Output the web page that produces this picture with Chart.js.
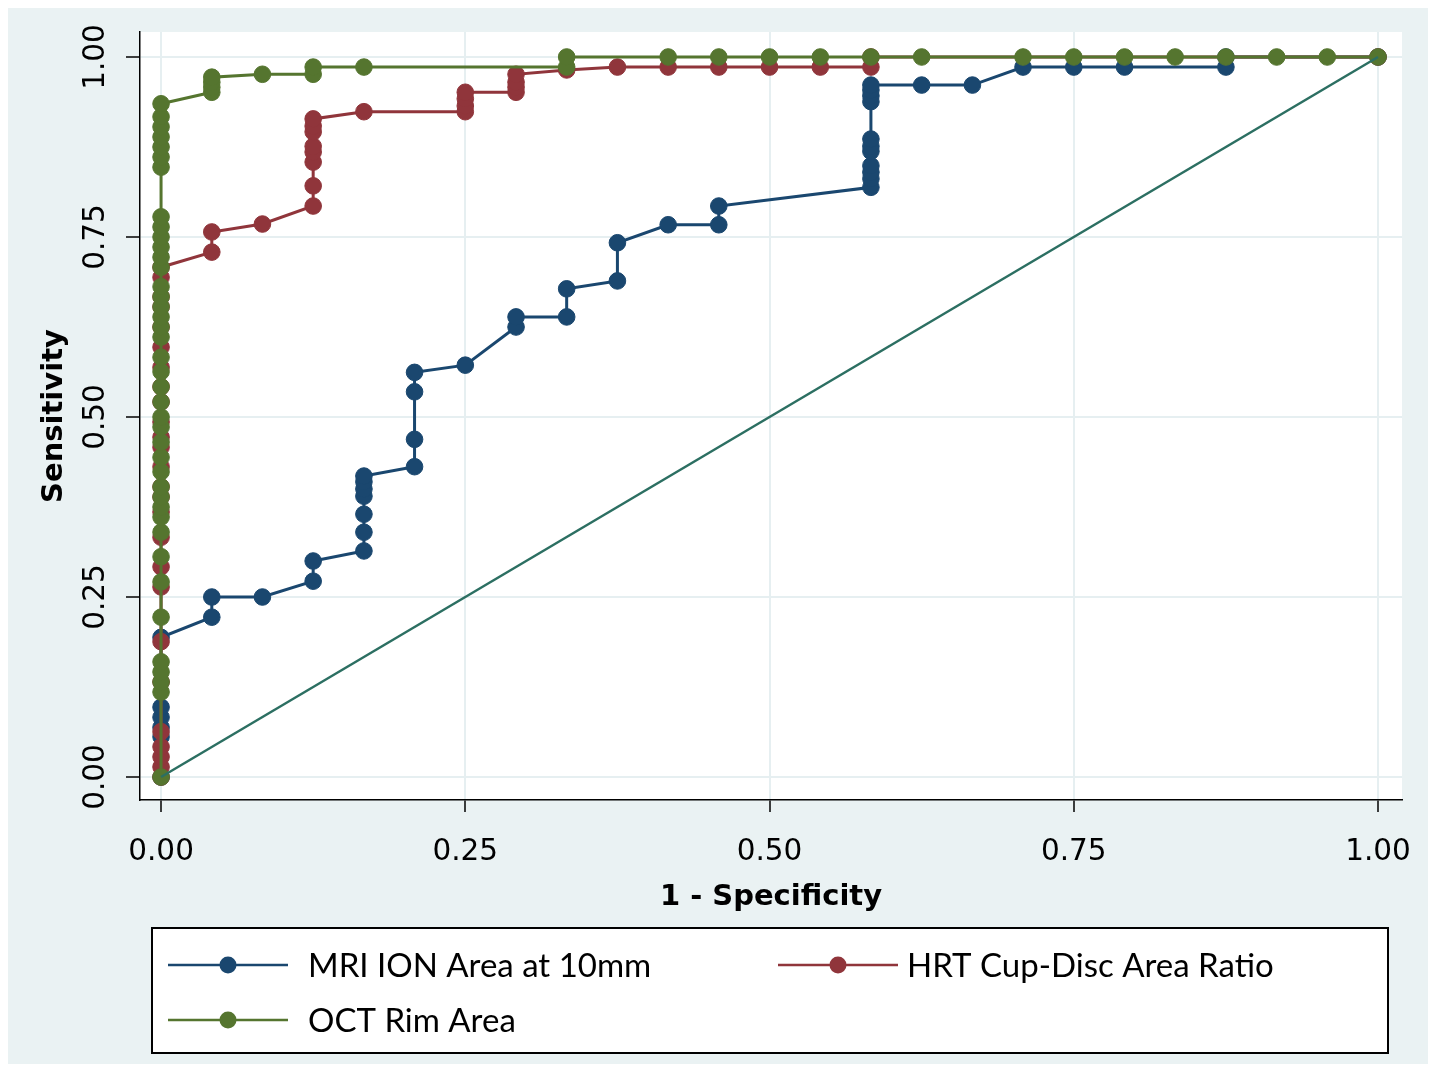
<!DOCTYPE html>
<html>
<head>
<meta charset="utf-8">
<script src="https://cdn.jsdelivr.net/npm/chart.js@4.4.1/dist/chart.umd.min.js"></script>
<style>
  html, body { margin: 0; padding: 0; background: #ffffff; }
  #wrap { width: 1432px; height: 1068px; }
</style>
</head>
<body>
<div id="wrap"><canvas id="c" width="1432" height="1068"></canvas></div>
<script>
// ---- Data (1 - specificity, sensitivity) ----
const seriesLabels = ['MRI ION Area at 10mm', 'HRT Cup-Disc Area Ratio', 'OCT Rim Area'];

const mriX = [0, 0, 0, 0, 0, 0, 0.0417, 0.0417, 0.0833, 0.125, 0.125,
  0.1667, 0.1667, 0.1667, 0.1667, 0.1667, 0.1667, 0.1667,
  0.2083, 0.2083, 0.2083, 0.2083, 0.25, 0.2917, 0.2917, 0.3333, 0.3333,
  0.375, 0.375, 0.4167, 0.4583, 0.4583,
  0.5833, 0.5833, 0.5833, 0.5833, 0.5833, 0.5833, 0.5833, 0.5833, 0.5833, 0.5833, 0.5833,
  0.625, 0.6667, 0.7083, 0.75, 0.7917, 0.875, 0.875, 1];
const mriY = [0, 0.056, 0.069, 0.083, 0.097, 0.194, 0.222, 0.250, 0.250, 0.272, 0.300,
  0.314, 0.340, 0.365, 0.390, 0.400, 0.410, 0.418,
  0.431, 0.469, 0.535, 0.562, 0.572, 0.625, 0.639, 0.639, 0.678,
  0.689, 0.742, 0.767, 0.767, 0.793,
  0.819, 0.831, 0.840, 0.849, 0.869, 0.876, 0.886, 0.938, 0.946, 0.954, 0.961,
  0.961, 0.961, 0.986, 0.986, 0.986, 0.986, 1, 1];

const hrtX = [0, 0, 0, 0, 0, 0, 0, 0, 0, 0, 0, 0, 0, 0, 0, 0, 0, 0, 0, 0, 0, 0, 0, 0, 0, 0,
  0.0417, 0.0417, 0.0833,
  0.125, 0.125, 0.125, 0.125, 0.125, 0.125, 0.125, 0.125,
  0.1667, 0.25, 0.25, 0.25, 0.25, 0.2917, 0.2917, 0.2917, 0.2917,
  0.3333, 0.375, 0.4167, 0.4583, 0.5, 0.5417, 0.5833, 0.5833, 1];
const hrtY = [0, 0.014, 0.028, 0.042, 0.063, 0.132, 0.188, 0.264, 0.292, 0.333, 0.368, 0.389, 0.403,
  0.431, 0.458, 0.472, 0.493, 0.521, 0.542, 0.569, 0.597, 0.625, 0.653, 0.667, 0.694, 0.708,
  0.729, 0.757, 0.768,
  0.793, 0.821, 0.854, 0.868, 0.876, 0.896, 0.904, 0.914,
  0.924, 0.924, 0.932, 0.942, 0.951, 0.951, 0.958, 0.965, 0.976,
  0.982, 0.986, 0.986, 0.986, 0.986, 0.986, 0.986, 1, 1];

const octX = [0, 0, 0, 0, 0, 0, 0, 0, 0, 0, 0, 0, 0, 0, 0, 0, 0, 0, 0, 0, 0,
  0, 0, 0, 0, 0, 0, 0, 0, 0, 0, 0, 0, 0, 0, 0, 0, 0, 0, 0, 0,
  0.0417, 0.0417, 0.0417, 0.0417, 0.0833, 0.125, 0.125, 0.1667, 0.3333, 0.3333,
  0.4167, 0.4583, 0.5, 0.5417, 0.5833, 0.625, 0.7083, 0.75, 0.7917, 0.8333, 0.875, 0.9167, 0.9583, 1];
const octY = [0, 0.118, 0.132, 0.146, 0.160, 0.222, 0.271, 0.306, 0.340, 0.361, 0.375, 0.389, 0.403,
  0.424, 0.444, 0.465, 0.486, 0.500, 0.521, 0.542, 0.563,
  0.583, 0.611, 0.625, 0.639, 0.653, 0.667, 0.681, 0.708, 0.722, 0.736, 0.750, 0.764, 0.778,
  0.847, 0.861, 0.875, 0.889, 0.903, 0.917, 0.935,
  0.951, 0.958, 0.965, 0.972, 0.976, 0.976, 0.986, 0.986, 0.986, 1,
  1, 1, 1, 1, 1, 1, 1, 1, 1, 1, 1, 1, 1, 1];

const refX = [0, 1];
const refY = [0, 1];

const tickValues = [0, 0.25, 0.5, 0.75, 1];
const tickLabels = ['0.00', '0.25', '0.50', '0.75', '1.00'];
const xTitle = '1 - Specificity';
const yTitle = 'Sensitivity';

// ---- Styles ----
const colors = ['#1A476F', '#90353B', '#55752F'];
const refColor = '#2C6F62';
const toPts = (xs, ys) => xs.map((x, i) => ({ x: x, y: ys[i] }));

function seriesDs(i, xs, ys, order) {
  return {
    label: seriesLabels[i],
    data: toPts(xs, ys),
    showLine: true,
    borderColor: colors[i],
    backgroundColor: colors[i],
    borderWidth: 3,
    pointRadius: 8.3,
    pointBorderWidth: 1,
    pointBorderColor: colors[i],
    pointBackgroundColor: colors[i],
    tension: 0,
    order: order
  };
}

const bgPlugin = {
  id: 'bg',
  beforeDraw(chart) {
    const ctx = chart.ctx, a = chart.chartArea;
    ctx.save();
    ctx.fillStyle = '#ffffff';
    ctx.fillRect(0, 0, chart.width, chart.height);
    ctx.fillStyle = '#EAF2F3';
    ctx.fillRect(8, 8, 1420, 1056);
    ctx.fillStyle = '#ffffff';
    ctx.fillRect(a.left, a.top, a.right - a.left, a.bottom - a.top);
    ctx.restore();
  }
};

const legendPlugin = {
  id: 'boxLegend',
  afterDraw(chart) {
    const ctx = chart.ctx;
    ctx.save();
    ctx.fillStyle = '#ffffff';
    ctx.fillRect(152, 928, 1236, 125);
    ctx.strokeStyle = '#000000';
    ctx.lineWidth = 2;
    ctx.strokeRect(152, 928, 1236, 125);
    const slots = [[168, 965, 308], [778, 965, 907], [168, 1020, 308]];
    ctx.font = "33px 'Lato'";
    ctx.textBaseline = 'middle';
    ctx.textAlign = 'left';
    for (let i = 0; i < 3; i++) {
      const ds = chart.data.datasets[i];
      const [lx, ly, tx] = slots[i];
      ctx.strokeStyle = ds.borderColor;
      ctx.lineWidth = 2.5;
      ctx.beginPath();
      ctx.moveTo(lx, ly);
      ctx.lineTo(lx + 120, ly);
      ctx.stroke();
      ctx.fillStyle = ds.borderColor;
      ctx.beginPath();
      ctx.arc(lx + 60, ly, 8.5, 0, Math.PI * 2);
      ctx.fill();
      ctx.fillStyle = '#000000';
      ctx.fillText(ds.label, tx, ly + 1);
    }
    ctx.restore();
  }
};

const tickFont = { family: "'DejaVu Sans', Verdana, sans-serif", size: 29.5 };
const titleFont = { family: "'DejaVu Sans', Verdana, sans-serif", size: 29, weight: 'bold' };

new Chart(document.getElementById('c'), {
  type: 'scatter',
  data: {
    datasets: [
      seriesDs(0, mriX, mriY, 2),
      seriesDs(1, hrtX, hrtY, 1),
      seriesDs(2, octX, octY, 0),
      {
        label: 'Reference',
        data: toPts(refX, refY),
        showLine: true,
        borderColor: refColor,
        borderWidth: 2.5,
        pointRadius: 0,
        tension: 0,
        order: -1
      }
    ]
  },
  options: {
    responsive: false,
    devicePixelRatio: 1,
    animation: false,
    layout: { padding: { left: 37, right: 30, top: 32, bottom: 153 } },
    plugins: { legend: { display: false }, tooltip: { enabled: false } },
    scales: {
      x: {
        type: 'linear',
        min: -0.0173,
        max: 1.0197,
        afterBuildTicks: s => { s.ticks = tickValues.map(v => ({ value: v })); },
        afterFit: s => { s.height = 115; s.paddingLeft = 0; s.paddingRight = 0; },
        ticks: {
          font: tickFont, color: '#000', padding: 23, maxRotation: 0,
          callback: (v) => tickLabels[tickValues.indexOf(v)]
        },
        grid: { color: '#E6EFF1', lineWidth: 2, drawTicks: true, tickLength: 12, tickColor: '#000', tickWidth: 1.5 },
        border: { display: true, color: '#000', width: 1.5 },
        title: { display: true, text: xTitle, font: titleFont, color: '#000', padding: { top: 0, bottom: 0 } }
      },
      y: {
        type: 'linear',
        min: -0.0319,
        max: 1.0347,
        afterBuildTicks: s => { s.ticks = tickValues.map(v => ({ value: v })); },
        afterFit: s => { s.width = 103; s.paddingTop = 0; s.paddingBottom = 0; },
        ticks: {
          font: tickFont, color: '#000', padding: -3, minRotation: 90, maxRotation: 90, crossAlign: 'center',
          callback: (v) => tickLabels[tickValues.indexOf(v)]
        },
        grid: { color: '#E6EFF1', lineWidth: 2, drawTicks: true, tickLength: 14, tickColor: '#000', tickWidth: 1.5 },
        border: { display: true, color: '#000', width: 1.5 },
        title: { display: true, text: yTitle, font: titleFont, color: '#000', padding: { top: 0, bottom: 0 } }
      }
    }
  },
  plugins: [bgPlugin, legendPlugin]
});
</script>
</body>
</html>
